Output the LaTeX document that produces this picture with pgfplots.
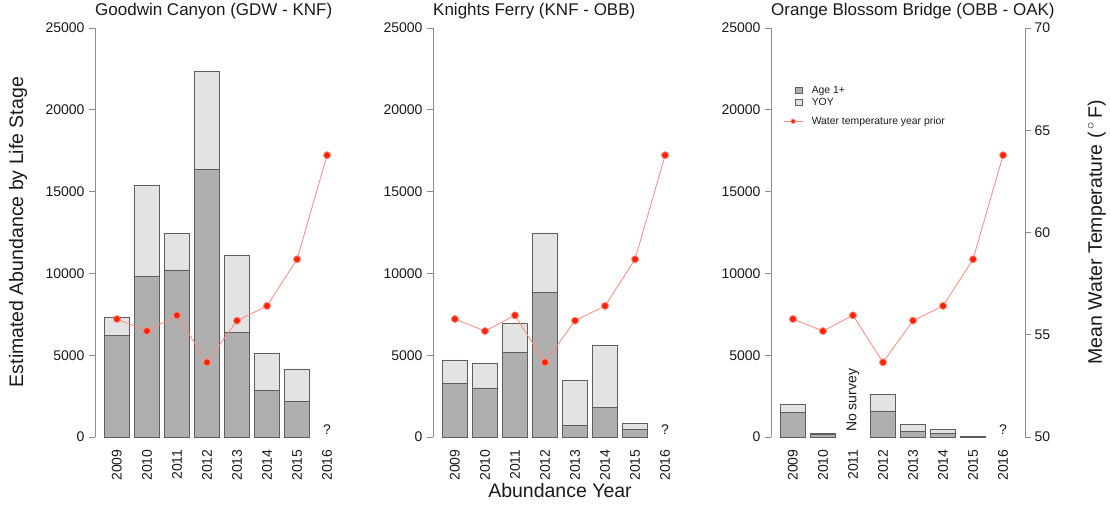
\documentclass[border=0pt]{standalone}
\usepackage{pgfplots}
\usepackage{pgfplotstable}
\pgfplotsset{compat=1.18}
\usepackage{fontspec}
\setmainfont{Liberation Sans}
\definecolor{bardark}{HTML}{AFAFAF}
\definecolor{barlight}{HTML}{E3E3E3}
\definecolor{baredge}{HTML}{5E5E5E}
\definecolor{axgray}{HTML}{8C8C8C}
\definecolor{tline}{HTML}{FF8A80}
\definecolor{tred}{HTML}{FF2200}
\definecolor{txt}{HTML}{1A1A1A}

\pgfplotstableread{
x t
0 55.77
1 55.18
2 55.95
3 53.65
4 55.69
5 56.41
6 58.69
7 63.78
}\temptable

\pgfplotsset{
 panel/.style={
  scale only axis, width=254pt, height=409pt,
  xmin=-0.73, xmax=7.73, ymin=0, ymax=25000,
  axis y line*=left, axis x line*=bottom,
  x axis line style={draw=none},
  y axis line style={draw=axgray, line width=0.8pt, -},
  xtick={0,1,2,3,4,5,6,7},
  xticklabels={2009,2010,2011,2012,2013,2014,2015,2016},
  xtick style={draw=none},
  ytick={0,5000,10000,15000,20000,25000},
  ytick style={draw=axgray, line width=0.8pt},
  tick align=outside, major tick length=6pt,
  scaled y ticks=false,
  /pgf/number format/assume math mode=true,
  yticklabel style={/pgf/number format/fixed, /pgf/number format/1000 sep={}, font=\fontsize{14}{16}\selectfont, text=txt, xshift=-1pt},
  xticklabel style={rotate=90, anchor=east, font=\fontsize{14}{16}\selectfont, text=txt, xshift=-3pt},
  ybar stacked, bar width=25pt,
  title style={at={(axis description cs:0,1)}, anchor=base west, yshift=7pt, font=\fontsize{17}{20}\selectfont, text=txt, inner sep=0pt},
  clip=false,
 },
 temp/.style={scale only axis, width=254pt, height=409pt,
  xmin=-0.73, xmax=7.73, ymin=50, ymax=70, clip=false},
 tplot/.style={color=tline, line width=0.8pt, mark=*, mark size=3.5pt,
  mark options={fill=tred, draw=none}},
 dk/.style={fill=bardark, draw=baredge, line width=0.7pt},
 lt/.style={fill=barlight, draw=baredge, line width=0.7pt},
}

\begin{document}
\begin{tikzpicture}
\useasboundingbox (0,0) rectangle (1110pt,504pt);

% Panel 1
\begin{axis}[panel, at={(95pt,67pt)},
  title={Goodwin Canyon (GDW - KNF)},
  ylabel={Estimated Abundance by Life Stage},
  ylabel style={at={(axis description cs:-0.303,0.501)}, anchor=center, font=\fontsize{19.5}{22}\selectfont, text=txt}]
\addplot[dk] coordinates {(0,6210) (1,9820) (2,10210) (3,16340) (4,6400) (5,2830) (6,2180)};
\addplot[lt] coordinates {(0,1125) (1,5580) (2,2240) (3,5990) (4,4680) (5,2260) (6,1980)};
\node[anchor=base, font=\fontsize{14}{16}\selectfont, text=txt] at (axis cs:7,180) {?};
\end{axis}
\begin{axis}[temp, at={(95pt,67pt)}, hide axis]
\addplot[tplot] table[x=x, y=t] {\temptable};
\end{axis}

% Panel 2
\begin{axis}[panel, at={(433pt,67pt)},
  title={Knights Ferry (KNF - OBB)},
  xlabel={Abundance Year},
  xlabel style={at={(axis description cs:0.5,-0.132)}, anchor=center, font=\fontsize{19.5}{22}\selectfont, text=txt}]
\addplot[dk] coordinates {(0,3300) (1,3000) (2,5150) (3,8860) (4,730) (5,1830) (6,470)};
\addplot[lt] coordinates {(0,1410) (1,1500) (2,1780) (3,3610) (4,2750) (5,3750) (6,390)};
\node[anchor=base, font=\fontsize{14}{16}\selectfont, text=txt] at (axis cs:7,180) {?};
\end{axis}
\begin{axis}[temp, at={(433pt,67pt)}, hide axis]
\addplot[tplot] table[x=x, y=t] {\temptable};
\end{axis}

% Panel 3
\begin{axis}[panel, at={(771pt,67pt)},
  title={Orange Blossom Bridge (OBB - OAK)}]
\addplot[dk] coordinates {(0,1510) (1,160) (3,1590) (4,370) (5,220) (6,40)};
\addplot[lt] coordinates {(0,490) (1,60) (3,1000) (4,420) (5,250) (6,20)};
\node[anchor=base, font=\fontsize{14}{16}\selectfont, text=txt] at (axis cs:7,180) {?};
\node[rotate=90, anchor=west, inner sep=0pt, font=\fontsize{14}{16}\selectfont, text=txt] at (axis cs:2,300) {No survey};
\end{axis}
\begin{axis}[temp, at={(771pt,67pt)},
  axis y line*=right, axis x line=none,
  y axis line style={draw=axgray, line width=0.8pt, -},
  ytick={50,55,60,65,70},
  ytick style={draw=axgray, line width=0.8pt},
  tick align=outside, major tick length=6pt,
  /pgf/number format/assume math mode=true,
  yticklabel style={font=\fontsize{14}{16}\selectfont, text=txt},
  ylabel={Mean Water Temperature (\,$^{\circ}$\,F)},
  ylabel style={at={(axis description cs:1.283,0.501)}, anchor=center, rotate=0, font=\fontsize{19.5}{22}\selectfont, text=txt},
  legend style={at={(rel axis cs:0.0472,0.8606)}, anchor=north west, draw=none, fill=none,
    inner sep=0pt, column sep=7.5pt, row sep=0pt,
    cells={anchor=base west},
    nodes={inner sep=1.25pt, text height=7.5pt, text depth=2pt},
    font=\fontsize{10.4}{12}\selectfont, text=txt}]
\addlegendimage{legend image code/.code={\path (0pt,0pt) (19pt,0pt); \draw[fill=bardark, draw=baredge, line width=0.6pt] (11.5pt,0.6pt) rectangle (18.5pt,6.8pt);}}
\addlegendentry{Age 1+}
\addlegendimage{legend image code/.code={\path (0pt,0pt) (19pt,0pt); \draw[fill=barlight, draw=baredge, line width=0.6pt] (11.5pt,0.6pt) rectangle (18.5pt,6.8pt);}}
\addlegendentry{YOY}
\addlegendimage{tplot, mark size=2.2pt, legend image code/.code={\begin{scope}[yshift=3.7pt]\draw[mark repeat=2, mark phase=2] plot coordinates {(0pt,0pt) (9.5pt,0pt) (19pt,0pt)};\end{scope}}}
\addlegendentry[text height=14.5pt]{Water temperature year prior}
\addplot[tplot, forget plot] table[x=x, y=t] {\temptable};
\end{axis}
\end{tikzpicture}
\end{document}
